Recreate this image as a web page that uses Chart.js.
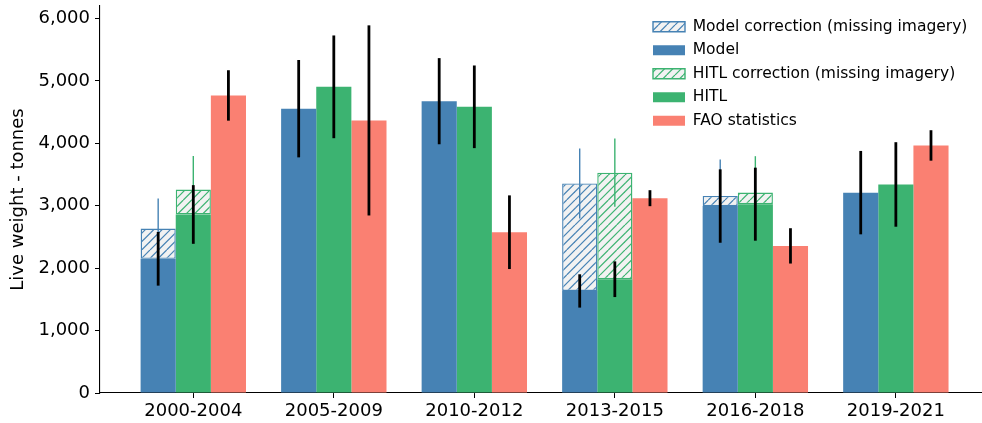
<!DOCTYPE html>
<html>
<head>
<meta charset="utf-8">
<script src="https://cdn.jsdelivr.net/npm/chart.js@4.4.1/dist/chart.umd.min.js"></script>
<style>
  html, body { margin: 0; padding: 0; background: #fff; }
  #wrap { width: 982px; height: 423px; }
</style>
</head>
<body>
<div id="wrap"><canvas id="chart" width="982" height="423"></canvas></div>
<script>
const categories = ["2000-2004", "2005-2009", "2010-2012", "2013-2015", "2016-2018", "2019-2021"];
const yTicks = [0, 1000, 2000, 3000, 4000, 5000, 6000];

// base estimates and their (black) error bars
const model = [2150, 4555, 4675, 1635, 2995, 3210];
const modelErr = [430, 780, 690, 267, 588, 668];
const hitl = [2860, 4905, 4585, 1823, 3025, 3341];
const hitlErr = [470, 823, 662, 286, 585, 677];
const fao = [4767, 4367, 2576, 3121, 2357, 3966];
const faoErr = [404, 1523, 590, 128, 283, 244];

// extra amount added for missing imagery, stacked on top, with thin error bars
const modelCorr = [485, null, null, 1722, 163, null];
const modelCorrErr = [480, null, null, 561, 583, null];
const hitlCorr = [400, null, null, 1707, 187, null];
const hitlCorrErr = [535, null, null, 548, 582, null];

const BLUE = "#4682b4";
const GREEN = "#3cb371";
const SALMON = "#fa8072";

const canvas = document.getElementById("chart");
const ctx = canvas.getContext("2d");

const hatch = (color) => {
  const size = 25;
  const c = document.createElement("canvas");
  c.width = size;
  c.height = size;
  const g = c.getContext("2d");
  g.fillStyle = "#f2f2f2";
  g.fillRect(0, 0, size, size);
  g.strokeStyle = color;
  g.lineWidth = 1.2;
  const step = size / 3;
  for (let o = -size; o <= size + 0.01; o += step) {
    g.beginPath();
    g.moveTo(o, size);
    g.lineTo(o + size, 0);
    g.stroke();
  }
  return ctx.createPattern(c, "repeat");
};

const toPoints = (values) => values.map((v, i) => ({ x: i, y: v }));

// legend order as in the figure
const legendRank = [1, 0, 3, 2, 4];

const legendPlace = {
  id: "legendPlace",
  afterLayout(chart) {
    const lg = chart.legend;
    if (!lg) return;
    const w = lg.width, h = lg.height;
    lg.left = 645;
    lg.right = 645 + w;
    lg.top = 11;
    lg.bottom = 11 + h;
  }
};

const errorBars = {
  id: "errorBars",
  afterDatasetsDraw(chart) {
    const c = chart.ctx;
    const yScale = chart.scales.y;
    const sets = chart.data.datasets
      .map((ds, i) => ({ ds, i }))
      .filter((d) => d.ds.errors)
      .sort((a, b) => a.ds.errWidth - b.ds.errWidth);
    c.save();
    c.lineCap = "butt";
    for (const { ds, i } of sets) {
      const meta = chart.getDatasetMeta(i);
      c.strokeStyle = ds.errColor;
      c.lineWidth = ds.errWidth;
      ds.data.forEach((pt, j) => {
        const e = ds.errors[j];
        if (pt.y == null || e == null) return;
        const el = meta.data[j];
        const v = yScale.getValueForPixel(el.y);
        c.beginPath();
        c.moveTo(el.x, yScale.getPixelForValue(v + e));
        c.lineTo(el.x, yScale.getPixelForValue(v - e));
        c.stroke();
      });
    }
    c.restore();
  }
};

Chart.defaults.font.family = "'DejaVu Sans', sans-serif";
Chart.defaults.color = "#000";

const chart = new Chart(ctx, {
  type: "bar",
  data: {
    datasets: [
      {
        label: "Model",
        data: toPoints(model),
        backgroundColor: BLUE,
        borderWidth: 0,
        stack: "model",
        errors: modelErr, errColor: "#000", errWidth: 2.8
      },
      {
        label: "Model correction (missing imagery)",
        data: toPoints(modelCorr),
        backgroundColor: hatch(BLUE),
        borderColor: BLUE,
        borderWidth: 1.4,
        borderSkipped: false,
        stack: "model",
        errors: modelCorrErr, errColor: BLUE, errWidth: 1.4
      },
      {
        label: "HITL",
        data: toPoints(hitl),
        backgroundColor: GREEN,
        borderWidth: 0,
        stack: "hitl",
        errors: hitlErr, errColor: "#000", errWidth: 2.8
      },
      {
        label: "HITL correction (missing imagery)",
        data: toPoints(hitlCorr),
        backgroundColor: hatch(GREEN),
        borderColor: GREEN,
        borderWidth: 1.4,
        borderSkipped: false,
        stack: "hitl",
        errors: hitlCorrErr, errColor: GREEN, errWidth: 1.4
      },
      {
        label: "FAO statistics",
        data: toPoints(fao),
        backgroundColor: SALMON,
        borderWidth: 0,
        stack: "fao",
        errors: faoErr, errColor: "#000", errWidth: 2.8
      }
    ]
  },
  options: {
    responsive: false,
    animation: false,
    devicePixelRatio: 1,
    datasets: { bar: { categoryPercentage: 0.75, barPercentage: 1 } },
    layout: { padding: { top: 6, right: 1, left: 0, bottom: 0 } },
    scales: {
      x: {
        type: "linear",
        offset: false,
        min: -0.664,
        max: 5.606,
        afterFit: (s) => { s.height = 30; s.paddingLeft = 0; s.paddingRight = 0; },
        afterBuildTicks: (s) => { s.ticks = categories.map((_, i) => ({ value: i })); },
        grid: { display: true, offset: false, drawOnChartArea: false, drawTicks: true, tickLength: 5, tickColor: "#000", tickWidth: 1 },
        border: { display: true, color: "#000", width: 1.1 },
        ticks: {
          autoSkip: false,
          maxRotation: 0,
          padding: 3,
          font: { size: 18 },
          color: "#000",
          callback: (v) => categories[v] ?? ""
        }
      },
      y: {
        stacked: true,
        min: 0,
        max: 6200,
        afterFit: (s) => { s.width = 100; s.paddingTop = 0; s.paddingBottom = 0; },
        afterBuildTicks: (s) => { s.ticks = yTicks.map((v) => ({ value: v })); },
        grid: { display: true, drawOnChartArea: false, drawTicks: true, tickLength: 5, tickColor: "#000", tickWidth: 1 },
        border: { display: true, color: "#000", width: 1.1 },
        ticks: {
          padding: 5,
          font: { size: 18 },
          color: "#000",
          callback: (v) => v.toLocaleString("en-US")
        },
        title: {
          display: true,
          text: "Live weight - tonnes",
          font: { size: 18 },
          color: "#000",
          padding: { top: 8, bottom: 0 }
        }
      }
    },
    plugins: {
      legend: {
        position: "chartArea",
        align: "start",
        labels: {
          font: { size: 15.5 },
          color: "#000",
          boxWidth: 32,
          boxHeight: 10,
          padding: 8,
          sort: (a, b) => legendRank[a.datasetIndex] - legendRank[b.datasetIndex]
        }
      },
      tooltip: { enabled: false }
    }
  },
  plugins: [legendPlace, errorBars]
});
</script>
</body>
</html>
